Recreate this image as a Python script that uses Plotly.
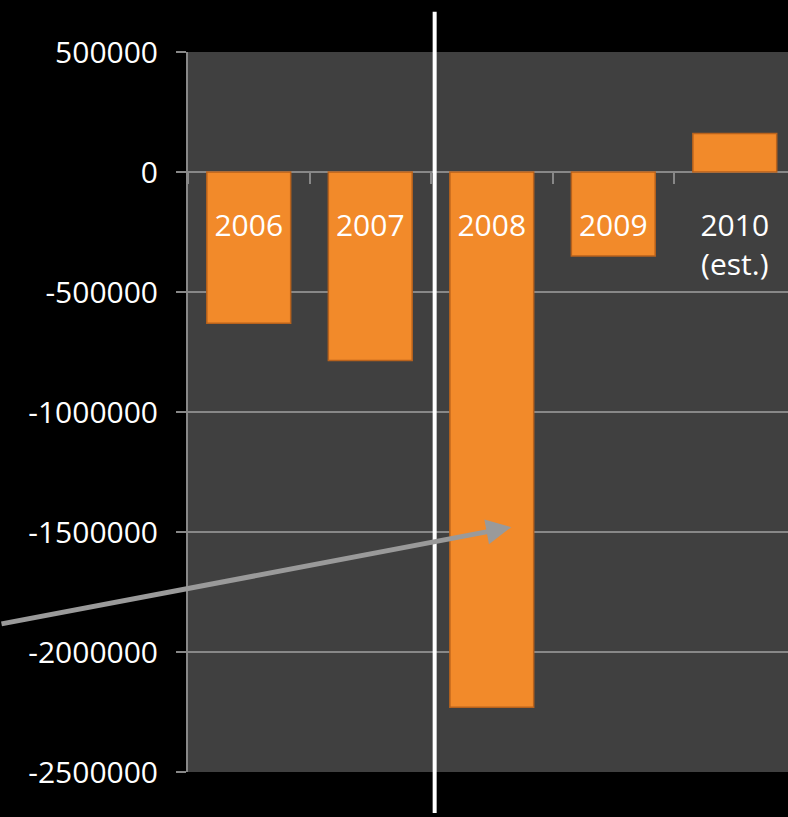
import plotly.graph_objects as go

categories = ["2006", "2007", "2008", "2009", "2010<br>(est.)"]
values = [-630000, -785000, -2230000, -350000, 160000]
y_tick_vals = [500000, 0, -500000, -1000000, -1500000, -2000000, -2500000]
y_tick_text = ["500000", "0", "-500000", "-1000000", "-1500000", "-2000000", "-2500000"]

ymin, ymax = -2500000, 500000
FONT = "Open Sans"

fig = go.Figure()
fig.add_trace(go.Bar(
    x=categories, y=values, width=0.69,
    marker=dict(color="#F28A2A", line=dict(color="#B8621C", width=1.5)),
    showlegend=False,
))

fig.update_layout(
    width=788, height=817,
    margin=dict(l=188, r=0, t=52, b=45),
    paper_bgcolor="#000000", plot_bgcolor="#404040",
    font=dict(family=FONT, color="white", size=30),
    xaxis=dict(
        type="category", range=[-0.5, 4.438],
        anchor="free", position=(0 - ymin) / (ymax - ymin),
        showgrid=False, showline=False, zeroline=False,
        ticks="outside", tickson="boundaries", ticklen=11, tickwidth=2,
        tickcolor="#888888", ticklabelstandoff=33,
        tickfont=dict(family=FONT, size=30, color="white"),
    ),
    yaxis=dict(
        range=[ymin, ymax], tickvals=y_tick_vals, ticktext=y_tick_text,
        showgrid=True, gridcolor="#888888", gridwidth=2,
        zeroline=False, showline=True, linecolor="#888888", linewidth=2,
        ticks="outside", ticklen=10, tickwidth=2, tickcolor="#888888",
        ticklabelstandoff=12,
        tickfont=dict(family=FONT, size=30, color="white"),
    ),
    shapes=[dict(type="line", xref="x", yref="paper", x0=1.53, x1=1.53,
                 y0=-0.057, y1=1.056, line=dict(color="white", width=4),
                 layer="above")],
    annotations=[dict(x=2.16, y=-1480000, xref="x", yref="y", text="",
                      showarrow=True, ax=-512, ay=97, arrowhead=2,
                      arrowsize=1.0, arrowwidth=5, arrowcolor="#9A9A9A")],
)

fig.write_html("out.html")
